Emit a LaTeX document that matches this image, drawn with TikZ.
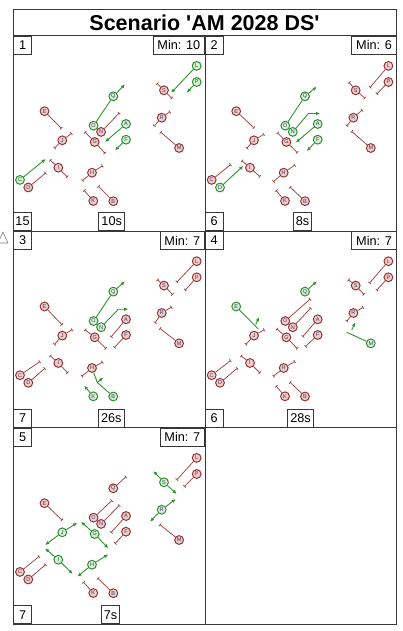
\documentclass[tikz,border=0pt]{standalone}
\usepackage{fontspec}
\newfontfamily\arialf{Liberation Sans}
\usetikzlibrary{arrows.meta}
\definecolor{frm}{RGB}{55,55,55}
\definecolor{rline}{RGB}{160,65,65}
\definecolor{rcirc}{RGB}{150,45,45}
\definecolor{rfill}{RGB}{236,205,205}
\definecolor{gline}{RGB}{45,150,45}
\definecolor{gcirc}{RGB}{40,140,40}
\definecolor{gfill}{RGB}{215,238,215}
\definecolor{ltr}{RGB}{55,55,105}
\tikzset{
  rn/.style={circle, draw=rcirc, fill=rfill, line width=0.95pt, minimum size=8.8pt, inner sep=0pt, font=\arialf\fontsize{5.5}{5.5}\selectfont, text=ltr},
  gn/.style={circle, draw=gcirc, fill=gfill, line width=0.95pt, minimum size=8.8pt, inner sep=0pt, font=\arialf\fontsize{5.5}{5.5}\selectfont, text=ltr},
  rseg/.style={draw=rline, line width=0.75pt, -{Bar[width=3.4pt,line width=0.75pt]}},
  gln/.style={draw=gline, line width=0.9pt},
  garr/.style={gln, -{Latex[length=4.2pt,width=3.6pt]}},
  lbl/.style={draw=frm, line width=0.9pt, fill=white, font=\arialf\fontsize{12.7}{13}\selectfont, inner sep=0pt, minimum height=18.3pt},
  numbox/.style={lbl, minimum width=17.6pt},
  minbox/.style={lbl, inner xsep=4.3pt},
  timebox/.style={lbl, inner xsep=2.7pt},
  frame/.style={draw=frm, line width=0.9pt}
}
\newcommand\rsk[3]{\draw[rseg] (#1) -- ++(#2,#3);}
\newcommand\gar[3]{\draw[garr] (#1) -- ++(#2,#3);}
\makeatletter
\newcommand\drawnodes[2]{%
  \foreach \l/\x/\y in {L/183.4/30.2,P/183.4/46.3,S/150.7/54.6,Q/100/60.6,E/31.2/75.5,R/148.4/82,A/112.7/88.3,O/80.3/90,N/87.8/96.2,J/49/104.6,G/81.4/106.3,F/112.7/104,M/165.8/112.3,I/45/132,H/78.7/137,C/6.7/144.2,D/15/151.8,K/80/165.3,B/100/165.5}{%
    \edef\tmp{\noexpand\in@{\l}{#2}}\tmp
    \ifin@\def\st{gn}\else\def\st{rn}\fi
    \edef\tmp{\noexpand\node[\st] (#1\l) at (\x,\y) {\l};}\tmp
  }}
\makeatother
\begin{document}
\begin{tikzpicture}[x=1pt,y=-1pt]
\useasboundingbox (0,0) rectangle (403,631);
% outer frame
\draw[frame] (13.3,9.3) rectangle (396.7,624.3);
\draw[frame] (13.3,35.7) -- (396.7,35.7);
\draw[frame] (13.3,231) -- (396.7,231);
\draw[frame] (13.3,427.7) -- (396.7,427.7);
\draw[frame] (205,35.7) -- (205,624.3);
\draw[gray, line width=0.6pt] (-2,243) -- (3,232) -- (8,243) -- cycle;
\node[font=\arialf\bfseries\fontsize{21.5}{24}\selectfont] (title) at (204.5,22.6) {Scenario 'AM 2028 DS'};
% labels
\node[numbox, anchor=north west] (t1) at (13.3,35.7) {1};
\node[minbox, anchor=north east] (m1) at (205,35.7) {Min: 10};
\node[numbox, anchor=south west] (c1) at (13.3,231) {15};
\node[timebox, anchor=south] (s1) at (111.7,231) {10s};
\node[numbox, anchor=north west] (t2) at (205,35.7) {2};
\node[minbox, anchor=north east] (m2) at (396.7,35.7) {Min: 6};
\node[numbox, anchor=south west] (c2) at (205,231) {6};
\node[timebox, anchor=south] (s2) at (302.5,231) {8s};
\node[numbox, anchor=north west] (t3) at (13.3,231) {3};
\node[minbox, anchor=north east] (m3) at (205,231) {Min: 7};
\node[numbox, anchor=south west] (c3) at (13.3,427.7) {7};
\node[timebox, anchor=south] (s3) at (111.3,427.7) {26s};
\node[numbox, anchor=north west] (t4) at (205,231) {4};
\node[minbox, anchor=north east] (m4) at (396.7,231) {Min: 7};
\node[numbox, anchor=south west] (c4) at (205,427.7) {6};
\node[timebox, anchor=south] (s4) at (300.5,427.7) {28s};
\node[numbox, anchor=north west] (t5) at (13.3,427.7) {5};
\node[minbox, anchor=north east] (m5) at (205,427.7) {Min: 7};
\node[numbox, anchor=south west] (c5) at (13.3,624.3) {7};
\node[timebox, anchor=south] (s5) at (110.5,624.3) {7s};
% ---------- panel 1
\begin{scope}[shift={(13.3,35.7)}]
\drawnodes{a}{LPQOAFC}
\rsk{aS}{-7}{-7}\rsk{aS}{8}{8}
\rsk{aE}{17}{17.3}
\rsk{aR}{8.3}{-6}\rsk{aR}{-7.7}{8.3}
\rsk{aN}{18.3}{-19}
\rsk{aJ}{9.4}{-7}\rsk{aJ}{-8}{8}
\rsk{aG}{-9.7}{-10}\rsk{aG}{10.3}{11.3}
\rsk{aM}{-18.6}{-16}
\rsk{aI}{-8.3}{-7.7}\rsk{aI}{9}{9.3}
\rsk{aH}{10.7}{-7}\rsk{aH}{-9.7}{8}
\rsk{aD}{17.4}{-14.6}
\rsk{aK}{-9.3}{-10.7}
\rsk{aB}{-15}{-15}
\gar{aL}{-25.7}{27}
\gar{aP}{-10}{10.7}
\draw[gln] (aO) -- (aQ);
\gar{aQ}{11.7}{-12}
\gar{aA}{-21}{18}
\gar{aF}{-11}{10.7}
\gar{aC}{25.7}{-21}
\end{scope}
% ---------- panel 2
\begin{scope}[shift={(205,35.7)}]
\drawnodes{b}{QONAFD}
\rsk{bL}{-18.4}{21.6}
\rsk{bP}{-11.7}{12}
\rsk{bS}{-6.7}{-8}\rsk{bS}{9.3}{8}
\rsk{bE}{17.9}{16.7}
\rsk{bR}{8.9}{-7.7}\rsk{bR}{-6.7}{8.3}
\rsk{bG}{-9}{-9.3}\rsk{bG}{11}{10.7}
\rsk{bJ}{10}{-6}\rsk{bJ}{-7.3}{8}
\rsk{bM}{-19.3}{-16.7}
\rsk{bI}{-8.3}{-7}\rsk{bI}{10}{9}
\rsk{bH}{11.3}{-7.7}\rsk{bH}{-10.4}{9}
\rsk{bC}{19}{-15.4}
\rsk{bK}{-9}{-10.7}
\rsk{bB}{-15}{-14.3}
\gar{bQ}{11.7}{-9.6}
\draw[gln] (bO) -- (bQ);
\draw[garr] (bN) -- ++(15.6,-18.4) -- ++(11.7,0);
\gar{bA}{-22}{18.6}
\gar{bF}{-11}{11.4}
\gar{bD}{23.3}{-21.7}
\end{scope}
% ---------- panel 3
\begin{scope}[shift={(13.3,231)}]
\drawnodes{c}{QONKB}
\rsk{cL}{-20}{21}
\rsk{cP}{-11.7}{13}
\rsk{cS}{-6.7}{-6}\rsk{cS}{8.7}{9}
\rsk{cE}{17.6}{18.4}
\rsk{cR}{10}{-6}\rsk{cR}{-6.7}{10}
\rsk{cA}{-15}{17.7}
\rsk{cF}{-11.7}{12.7}
\rsk{cJ}{10}{-6}\rsk{cJ}{-8}{9}
\rsk{cG}{-9.7}{-7.6}\rsk{cG}{11.3}{11.4}
\rsk{cM}{-19.3}{-15}
\rsk{cI}{-8.3}{-7.3}\rsk{cI}{9.4}{10}
\rsk{cC}{20}{-13.7}
\rsk{cD}{16.7}{-14.6}
\rsk{cH}{10.7}{-6}\rsk{cH}{-10.3}{8.3}
\gar{cQ}{11.7}{-10.3}
\draw[gln] (cO) -- (cQ);
\draw[garr] (cN) -- ++(17.3,-18) -- ++(10,0);
\gar{cK}{-9.3}{-10.7}
\path (cB) ++(-16,-14) coordinate (cj);
\draw[gln] (cB) -- (cj) -- (cH);
\gar{cj}{6}{-5}
\end{scope}
% ---------- panel 4
\begin{scope}[shift={(205,231)}]
\drawnodes{d}{QEM}
\rsk{dL}{-19}{22}
\rsk{dP}{-11.7}{13}
\rsk{dS}{-7.4}{-6}\rsk{dS}{8.3}{9}
\rsk{dR}{10}{-5.7}\rsk{dR}{-6.7}{8.3}
\rsk{dO}{25}{-22}
\rsk{dN}{18}{-19.3}
\rsk{dA}{-15}{17.4}
\rsk{dF}{-12.3}{11.6}
\rsk{dG}{-9.7}{-8.6}\rsk{dG}{11}{11.4}
\rsk{dJ}{10.3}{-6}\rsk{dJ}{-8.3}{9}
\rsk{dI}{-9}{-7.3}\rsk{dI}{10}{10}
\rsk{dH}{11.3}{-6.7}\rsk{dH}{-10.4}{8.3}
\rsk{dC}{19}{-14.7}
\rsk{dD}{17.3}{-14.6}
\rsk{dK}{-9}{-10.3}
\rsk{dB}{-15}{-14.3}
\gar{dQ}{12}{-10.3}
\path (dE) ++(22,22.5) coordinate (de2);
\path (dE) ++(19.5,18) coordinate (dj1);
\draw[gln] (dE) -- (de2);
\gar{dj1}{3.5}{-7.5}
\path (dM) ++(-24,-11) coordinate (dm2);
\path (dM) ++(-19,-13.5) coordinate (dj2);
\draw[gln] (dM) -- (dm2);
\gar{dj2}{3.5}{-7.5}
\end{scope}
% ---------- panel 5
\begin{scope}[shift={(13.3,427.7)}]
\drawnodes{e}{SRJGIH}
\rsk{eL}{-20}{22}
\rsk{eP}{-12.4}{12.7}
\rsk{eQ}{12.7}{-11.6}
\rsk{eE}{17.6}{17}
\rsk{eO}{18.4}{-17.3}
\rsk{eN}{18.3}{-18.7}
\rsk{eA}{-15}{16.7}
\rsk{eF}{-11}{12}
\rsk{eM}{-19.3}{-15.4}
\rsk{eC}{19.3}{-15.6}
\rsk{eD}{17.4}{-15}
\rsk{eK}{-10}{-11}
\rsk{eB}{-15.6}{-15}
\gar{eS}{-10.7}{-11.3}\gar{eS}{12.7}{11.7}
\gar{eR}{14}{-10.7}\gar{eR}{-11.7}{12}
\gar{eJ}{15}{-9.6}\gar{eJ}{-17.3}{12.7}
\gar{eG}{-13.7}{-12.3}\gar{eG}{13.6}{14.3}
\gar{eI}{-13.3}{-11.4}\gar{eI}{14.4}{14.3}
\gar{eH}{16.3}{-10.4}\gar{eH}{-14.7}{12}
\end{scope}
\end{tikzpicture}
\end{document}
